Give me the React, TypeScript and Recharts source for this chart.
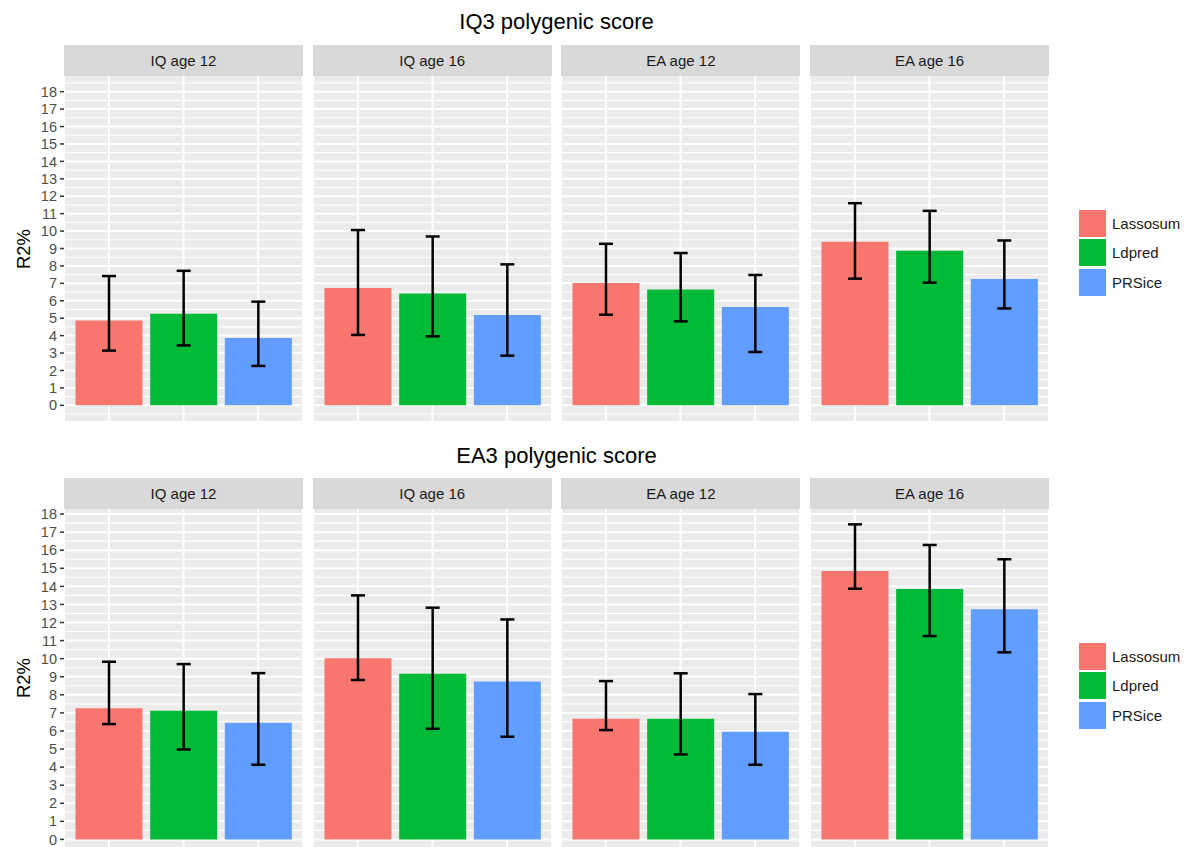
import React from 'react';
import { BarChart, Bar, Cell, XAxis, YAxis, CartesianGrid, ErrorBar } from 'recharts';

const methods = ['Lassosum', 'Ldpred', 'PRSice'];
const methodColors = ['#F8766D', '#00BA38', '#619CFF'];
const facets = ['IQ age 12', 'IQ age 16', 'EA age 12', 'EA age 16'];
const yTicks = [0, 1, 2, 3, 4, 5, 6, 7, 8, 9, 10, 11, 12, 13, 14, 15, 16, 17, 18];

// R2% per facet, order: Lassosum, Ldpred, PRSice
const iq3Mean = [
  [4.87, 5.26, 3.86],
  [6.73, 6.42, 5.18],
  [7.02, 6.65, 5.64],
  [9.39, 8.87, 7.25],
];
const iq3Lower = [
  [3.14, 3.44, 2.26],
  [4.04, 3.96, 2.85],
  [5.2, 4.82, 3.06],
  [7.27, 7.04, 5.56],
];
const iq3Upper = [
  [7.42, 7.72, 5.95],
  [10.06, 9.69, 8.09],
  [9.27, 8.74, 7.48],
  [11.6, 11.16, 9.46],
];

const ea3Mean = [
  [7.25, 7.12, 6.45],
  [10.02, 9.17, 8.74],
  [6.68, 6.68, 5.96],
  [14.85, 13.85, 12.73],
];
const ea3Lower = [
  [6.38, 4.98, 4.13],
  [8.82, 6.12, 5.68],
  [6.05, 4.7, 4.13],
  [13.87, 11.25, 10.35],
];
const ea3Upper = [
  [9.83, 9.7, 9.2],
  [13.5, 12.82, 12.17],
  [8.76, 9.19, 8.04],
  [17.43, 16.29, 15.5],
];

const FONT = '"Liberation Sans", Arial, sans-serif';
const PANEL_W = 239;
const PANEL_STEP = 248.7;
const AXIS_W = 64;
const PAD = 10;

type FacetProps = {
  mean: number[];
  lower: number[];
  upper: number[];
  domain: [number, number];
  height: number;
  showAxis: boolean;
};

function Facet({ mean, lower, upper, domain, height, showAxis }: FacetProps) {
  const data = methods.map((m, i) => ({
    method: m,
    r2: mean[i],
    err: [mean[i] - lower[i], upper[i] - mean[i]],
  }));
  const minor = yTicks
    .map((t) => t - 0.5)
    .concat([18.5])
    .filter((v) => v > domain[0] && v < domain[1]);

  return (
    <BarChart
      width={showAxis ? PANEL_W + AXIS_W : PANEL_W}
      height={height + PAD * 2}
      data={data}
      margin={{ top: PAD, right: 0, bottom: PAD, left: 0 }}
      style={{ overflow: 'visible' }}
    >
      <CartesianGrid
        fill="#EBEBEB"
        stroke="#FFFFFF"
        strokeWidth={1.1}
        vertical={false}
        horizontalValues={minor}
      />
      <CartesianGrid stroke="#FFFFFF" strokeWidth={2} horizontalValues={yTicks} />
      <XAxis dataKey="method" hide padding={{ left: 7.5, right: 7.5 }} />
      <YAxis
        hide={!showAxis}
        width={AXIS_W}
        type="number"
        domain={domain}
        ticks={yTicks}
        allowDataOverflow
        interval={0}
        axisLine={false}
        tickSize={4}
        tickMargin={3}
        tickLine={{ stroke: '#333333', strokeWidth: 1.5 }}
        tick={{ fill: '#4D4D4D', fontSize: 14.5, fontFamily: FONT }}
      />
      <Bar dataKey="r2" barSize={67} isAnimationActive={false}>
        {data.map((d, i) => (
          <Cell key={d.method} fill={methodColors[i]} />
        ))}
        <ErrorBar dataKey="err" width={7} strokeWidth={2.5} stroke="#000000" isAnimationActive={false} />
      </Bar>
    </BarChart>
  );
}

type RowProps = {
  title: string;
  titleTop: number;
  top: number;
  panelHeight: number;
  domain: [number, number];
  mean: number[][];
  lower: number[][];
  upper: number[][];
  legendTop: number;
};

function Row({ title, titleTop, top, panelHeight, domain, mean, lower, upper, legendTop }: RowProps) {
  const stripTop = top + 33;
  const panelTop = stripTop + 31;
  return (
    <>
      <div
        style={{
          position: 'absolute',
          left: 64,
          width: 985,
          top: titleTop,
          height: 28,
          lineHeight: '28px',
          textAlign: 'center',
          fontSize: 22,
          color: '#000000',
        }}
      >
        {title}
      </div>
      <div
        style={{
          position: 'absolute',
          left: 24 - 40,
          width: 80,
          top: panelTop + panelHeight / 2 - 12,
          height: 24,
          lineHeight: '24px',
          textAlign: 'center',
          fontSize: 18.5,
          color: '#000000',
          transform: 'rotate(-90deg)',
        }}
      >
        R2%
      </div>
      {facets.map((f, i) => {
        const left = 64 + i * PANEL_STEP;
        return (
          <React.Fragment key={f}>
            <div
              style={{
                position: 'absolute',
                left,
                top: stripTop,
                width: PANEL_W,
                height: 31,
                lineHeight: '31px',
                background: '#D9D9D9',
                textAlign: 'center',
                fontSize: 15,
                color: '#1A1A1A',
              }}
            >
              {f}
            </div>
            <div
              style={{
                position: 'absolute',
                left: i === 0 ? left - AXIS_W : left,
                top: panelTop - PAD,
              }}
            >
              <Facet
                mean={mean[i]}
                lower={lower[i]}
                upper={upper[i]}
                domain={domain}
                height={panelHeight}
                showAxis={i === 0}
              />
            </div>
          </React.Fragment>
        );
      })}
      {methods.map((m, i) => (
        <React.Fragment key={m}>
          <div
            style={{
              position: 'absolute',
              left: 1079,
              top: legendTop + i * 29.3,
              width: 27,
              height: 27,
              background: methodColors[i],
            }}
          />
          <div
            style={{
              position: 'absolute',
              left: 1112,
              top: legendTop + i * 29.3,
              height: 27,
              lineHeight: '27px',
              fontSize: 15,
              color: '#1A1A1A',
            }}
          >
            {m}
          </div>
        </React.Fragment>
      ))}
    </>
  );
}

export default function App() {
  return (
    <div
      style={{
        position: 'absolute',
        left: 0,
        top: 0,
        width: 1191,
        height: 847,
        background: '#FFFFFF',
        fontFamily: FONT,
        overflow: 'hidden',
      }}
    >
      <Row
        title="IQ3 polygenic score"
        titleTop={8}
        top={12}
        panelHeight={345}
        domain={[-0.9, 18.9]}
        mean={iq3Mean}
        lower={iq3Lower}
        upper={iq3Upper}
        legendTop={210}
      />
      <Row
        title="EA3 polygenic score"
        titleTop={442}
        top={445}
        panelHeight={338}
        domain={[-0.42, 18.28]}
        mean={ea3Mean}
        lower={ea3Lower}
        upper={ea3Upper}
        legendTop={643}
      />
    </div>
  );
}
